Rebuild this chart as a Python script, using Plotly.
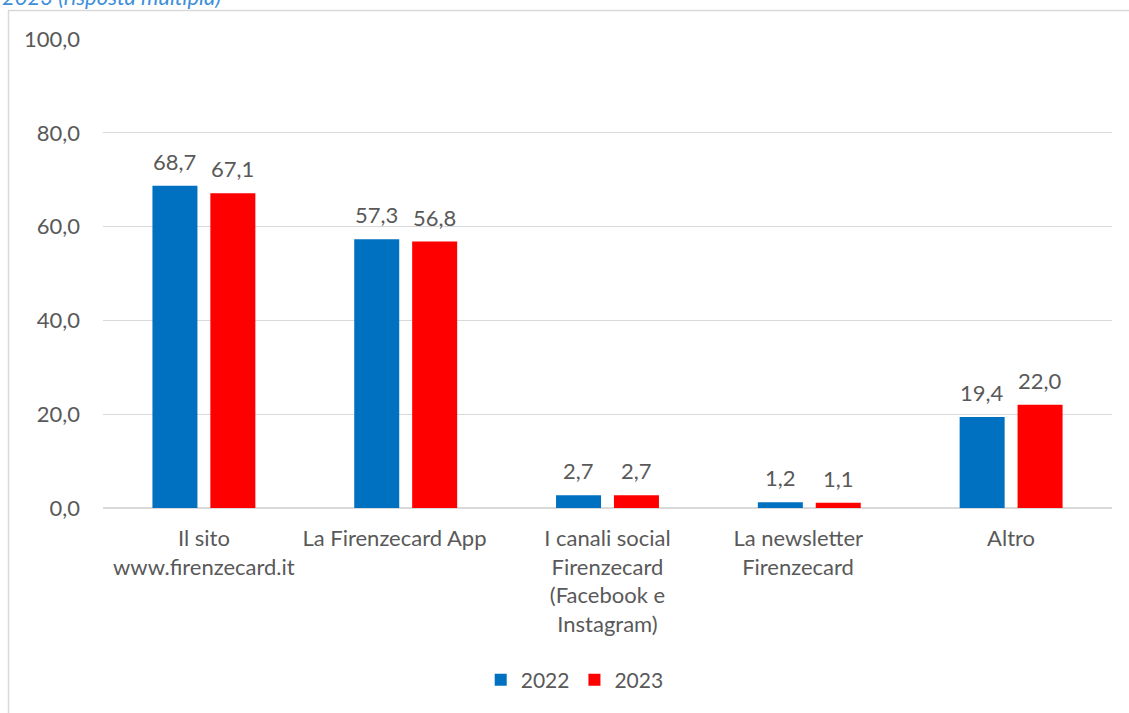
import plotly.graph_objects as go

NB = "\u00a0"
categories = ["Il sito<br>www.firenzecard.it", "La Firenzecard App" + NB * 4,
              "I canali social<br>Firenzecard<br>(Facebook e<br>Instagram)",
              "La newsletter" + NB * 4 + "<br>Firenzecard" + NB * 4, "Altro"]
series_names = ["2022", "2023"]
values_2022 = [68.7, 57.3, 2.7, 1.2, 19.4]
values_2023 = [67.1, 56.8, 2.7, 1.1, 22.0]
y_ticks = [0, 20, 40, 60, 80, 100]

colors = ["#0070C0", "#FF0000"]
FONT = "Lato, Open Sans, sans-serif"
TXT = "#595959"
FS = 22

W, H = 1129, 713
L, R, T, B = 103, 17, 39, 205
pw = W - L - R
ph = H - T - B

def px_x(p):
    return (p - L) / pw

def px_y(p):
    return (H - B - p) / ph

fig = go.Figure()
bar_w = 0.223
offsets = [-0.255, 0.032]
cat_px = pw / len(categories)
annotations = []
for name, vals, col, off in zip(series_names, [values_2022, values_2023], colors, offsets):
    fig.add_trace(go.Bar(
        x=categories, y=vals, name=name, marker=dict(color=col, line=dict(width=0)),
        width=bar_w, offset=off,
    ))
    for c, v in zip(categories, vals):
        annotations.append(dict(
            x=c, y=v, xref="x", yref="y", text=f"{v:.1f}".replace(".", ","),
            showarrow=False, yanchor="bottom", xanchor="center",
            xshift=(off + bar_w / 2) * cat_px, yshift=9,
            font=dict(family=FONT, size=FS, color=TXT)))

annotations.append(dict(text="<i>2023 (risposta multipla)</i>", xref="paper", yref="paper",
                        x=px_x(0), y=px_y(12), xanchor="left", yanchor="bottom", showarrow=False,
                        font=dict(family=FONT, size=FS, color="#3D8FD9")))

fig.update_layout(
    width=W, height=H, barmode="overlay",
    margin=dict(l=L, r=R, t=T, b=B, autoexpand=False),
    paper_bgcolor="white", plot_bgcolor="white",
    separators=",.",
    font=dict(family=FONT, size=FS, color=TXT),
    legend=dict(orientation="h", x=0.4675, xanchor="center", y=px_y(680), yanchor="middle",
                font=dict(family=FONT, size=21, color=TXT), itemwidth=30,
                traceorder="normal", bgcolor="rgba(0,0,0,0)"),
    xaxis=dict(showgrid=False, showline=False, zeroline=False, ticks="", automargin=False,
               tickfont=dict(family=FONT, size=FS, color=TXT), ticklabelstandoff=15),
    yaxis=dict(range=[0, 100], tickvals=y_ticks, tickformat=".1f", showgrid=True,
               gridcolor="#D9D9D9", gridwidth=1, zeroline=True, zerolinecolor="#D9D9D9",
               zerolinewidth=2, showline=False, ticks="", automargin=False,
               tickfont=dict(family=FONT, size=FS, color=TXT), ticklabelstandoff=22),
    shapes=[dict(type="rect", xref="paper", yref="paper",
                 x0=px_x(8.5), x1=px_x(1140), y0=px_y(760), y1=px_y(10.5),
                 line=dict(color="#D9D9D9", width=1.5), fillcolor="rgba(0,0,0,0)", layer="below")],
    annotations=annotations,
)

fig.write_html("out.html", config={"displayModeBar": False},
               post_script="document.body.style.margin='0';document.body.style.overflow='hidden';")
